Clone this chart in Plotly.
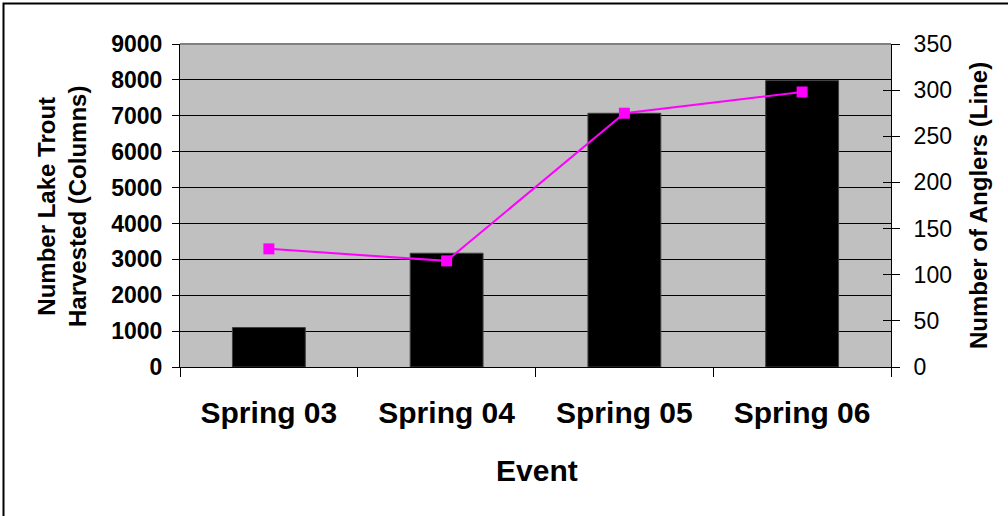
import plotly.graph_objects as go

# Lake trout harvest (columns) and angler counts (line) by event
events = ["Spring 03", "Spring 04", "Spring 05", "Spring 06"]
trout_harvested = [1100, 3170, 7070, 7980]
anglers = [128, 115, 275, 298]

left_ticks = [0, 1000, 2000, 3000, 4000, 5000, 6000, 7000, 8000, 9000]
right_ticks = [0, 50, 100, 150, 200, 250, 300, 350]

FONT = "Liberation Sans, Arial, sans-serif"

fig = go.Figure()

fig.add_trace(go.Bar(
    x=events, y=trout_harvested, yaxis="y",
    marker=dict(color="#000000", line=dict(color="#404040", width=1)),
    name="Number Lake Trout Harvested",
))

fig.add_trace(go.Scatter(
    x=events, y=anglers, yaxis="y2", mode="lines+markers",
    line=dict(color="#FF00FF", width=2),
    marker=dict(symbol="square", size=11, color="#FF00FF"),
    name="Number of Anglers",
))

# invisible helper trace so the inner half of the right-hand ticks is drawn
fig.add_trace(go.Scatter(x=events, y=anglers, yaxis="y3", mode="none",
                         showlegend=False, hoverinfo="skip"))

# plot area in pixels: x 180..891, y 44..367
L, R, T, B = 180, 891, 44, 367
W, H = R - L, B - T

def px(x):
    return (x - L) / W

def py(y):
    return (B - y) / H

fig.update_layout(
    width=1008, height=516,
    margin=dict(l=L, r=1008 - R, t=T, b=516 - B),
    paper_bgcolor="white",
    plot_bgcolor="#C0C0C0",
    showlegend=False,
    bargap=0.59,
    font=dict(family=FONT, color="black"),
    xaxis=dict(
        type="category",
        tickson="boundaries",
        ticks="outside", ticklen=9, tickcolor="black", tickwidth=1,
        showline=True, linecolor="black", linewidth=1,
        showgrid=False,
        tickfont=dict(size=30, weight="bold", family=FONT),
        ticklabelstandoff=19,
    ),
    yaxis=dict(
        range=[0, 9000], tickvals=left_ticks,
        ticks="outside", ticklen=7, tickcolor="black",
        showline=True, linecolor="black", linewidth=1,
        showgrid=True, gridcolor="#000000", gridwidth=1,
        zeroline=False,
        tickfont=dict(size=23, weight="bold", family=FONT),
        ticklabelstandoff=5,
    ),
    yaxis2=dict(
        range=[0, 350], tickvals=right_ticks, overlaying="y", side="right",
        ticks="outside", ticklen=8, tickcolor="black",
        showline=True, linecolor="black", linewidth=1,
        showgrid=False, zeroline=False,
        tickfont=dict(size=23, family=FONT),
        ticklabelstandoff=9,
    ),
    yaxis3=dict(
        range=[0, 350], tickvals=right_ticks, overlaying="y", side="right",
        ticks="inside", ticklen=8, tickcolor="black",
        showline=False, showgrid=False, zeroline=False,
        showticklabels=False,
    ),
    shapes=[
        # grey top edge of the plot area
        dict(type="line", xref="paper", yref="paper", x0=0, x1=1, y0=1, y1=1,
             line=dict(color="#808080", width=2)),
        # outer chart border
        dict(type="rect", xref="paper", yref="paper",
             x0=px(3.5), x1=px(1040), y0=py(3.5), y1=py(560),
             line=dict(color="#000000", width=2), layer="above"),
    ],
    annotations=[
        dict(text="Number Lake Trout<br>Harvested (Columns)", xref="paper", yref="paper",
             x=px(62), y=py(207), textangle=-90, showarrow=False,
             font=dict(size=24, weight="bold", family=FONT),
             xanchor="center", yanchor="middle"),
        dict(text="Number of Anglers (Line)", xref="paper", yref="paper",
             x=px(978), y=py(206), textangle=-90, showarrow=False,
             font=dict(size=24, weight="bold", family=FONT),
             xanchor="center", yanchor="middle"),
        dict(text="Event", xref="paper", yref="paper",
             x=px(537), y=py(470), showarrow=False,
             font=dict(size=30, weight="bold", family=FONT),
             xanchor="center", yanchor="middle"),
    ],
)

fig.write_html("out.html")
